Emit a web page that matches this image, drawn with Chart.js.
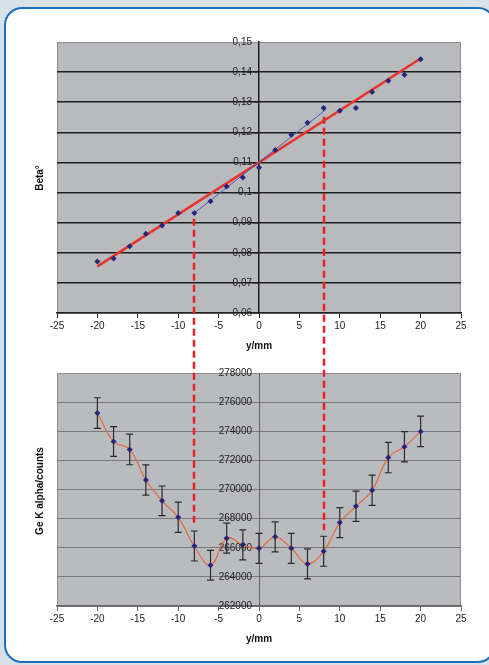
<!DOCTYPE html>
<html>
<head>
<meta charset="utf-8">
<script src="https://cdn.jsdelivr.net/npm/chart.js@4.4.1/dist/chart.umd.min.js"></script>
<style>
  body { margin: 0; width: 489px; height: 665px; overflow: hidden; background: #d8e0e8; position: relative; font-family: "Liberation Sans", Arial, sans-serif; }
  .frame { position: absolute; left: 4px; top: 7px; width: 488px; height: 652px; border: 2.5px solid #1c6fc0; border-radius: 18px; background: #fff; }
  canvas { position: absolute; left: 0; }
  #betaChart { top: 20px; }
  #geChart { top: 355px; }
  #overlay { top: 0; pointer-events: none; }
  .ytitle { position: absolute; font-weight: bold; font-size: 10px; color: #111; transform: translate(-50%, -50%) rotate(-90deg); white-space: nowrap; }
</style>
</head>
<body>
<div class="frame"></div>
<canvas id="betaChart" width="489" height="340"></canvas>
<canvas id="geChart" width="489" height="310"></canvas>
<canvas id="overlay" width="489" height="665"></canvas>
<div class="ytitle" style="left:39px; top:178px;">Beta°</div>
<div class="ytitle" style="left:39px; top:491px;">Ge K alpha/counts</div>
<script>
// positions along y (mm)
const positions = [-20, -18, -16, -14, -12, -10, -8, -6, -4, -2, 0, 2, 4, 6, 8, 10, 12, 14, 16, 18, 20];

// Beta angle measurements
const beta = [0.0771, 0.0781, 0.0822, 0.0863, 0.0891, 0.0932, 0.0932, 0.0971, 0.1020, 0.1050, 0.1083,
              0.1141, 0.1192, 0.1232, 0.1281, 0.1272, 0.1281, 0.1334, 0.1371, 0.1391, 0.1443];
// red fit over the whole range, blue fit over the middle part
const fitX = [-20, 20];
const fitBeta = [0.0755, 0.1445];
const midX = [-8, 8.3];
const midBeta = [0.0932, 0.1276];

// Ge K alpha counts and error
const geCounts = [275250, 273300, 272750, 270650, 269220, 268090, 266120, 264800, 266660, 266200, 265960,
                  266750, 265960, 264890, 265760, 267730, 268850, 269950, 272190, 272940, 273990];
const geErr = [1050, 1020, 1050, 1040, 1020, 1040, 1030, 1020, 1030, 1030, 1030,
               1030, 1030, 1030, 1030, 1030, 1040, 1040, 1040, 1040, 1050];

// dashed markers linking the two plots
const markX = [-8, 8];
const markBeta = [0.0913, 0.1252];
const markCounts = [267500, 267200];

// ticks
const xTicks = [-25, -20, -15, -10, -5, 0, 5, 10, 15, 20, 25];
const betaTickValues = [0.06, 0.07, 0.08, 0.09, 0.10, 0.11, 0.12, 0.13, 0.14, 0.15];
const betaTickLabels = ['0,06', '0,07', '0,08', '0,09', '0,1', '0,11', '0,12', '0,13', '0,14', '0,15'];
const geTickValues = [262000, 264000, 266000, 268000, 270000, 272000, 274000, 276000, 278000];

Chart.defaults.font.family = '"Liberation Sans", Arial, sans-serif';
Chart.defaults.font.size = 10;
Chart.defaults.color = '#222';

const pts = (xs, ys) => xs.map((x, i) => ({ x: x, y: ys[i] }));

const plotBg = {
  id: 'plotBg',
  beforeDraw(chart, args, opts) {
    const { ctx, chartArea: a } = chart;
    ctx.save();
    ctx.fillStyle = opts.color;
    ctx.fillRect(a.left, a.top, a.width, a.height);
    ctx.strokeStyle = opts.border;
    ctx.lineWidth = 1;
    ctx.strokeRect(a.left + 0.5, a.top + 0.5, a.width - 1, a.height - 1);
    ctx.restore();
  }
};

// y axis sits at x = 0, its labels need a small gap from the axis line
const yLabelGap = {
  id: 'yLabelGap',
  beforeDraw(chart, args, opts) {
    const items = chart.scales.y.getLabelItems(chart.chartArea);
    if (items._shifted) return;
    items.forEach(it => { it.options.translation[0] -= opts.gap; });
    items._shifted = true;
  }
};

const errorBars = {
  id: 'errorBars',
  beforeDatasetsDraw(chart, args, opts) {
    if (!opts.values) return;
    const { ctx, scales: { x, y } } = chart;
    ctx.save();
    ctx.strokeStyle = opts.color;
    ctx.lineWidth = 1.2;
    opts.values.forEach((v, i) => {
      const px = x.getPixelForValue(opts.xs[i]);
      const top = y.getPixelForValue(v + opts.err[i]);
      const bot = y.getPixelForValue(v - opts.err[i]);
      ctx.beginPath();
      ctx.moveTo(px, top); ctx.lineTo(px, bot);
      ctx.moveTo(px - 3.5, top); ctx.lineTo(px + 3.5, top);
      ctx.moveTo(px - 3.5, bot); ctx.lineTo(px + 3.5, bot);
      ctx.stroke();
    });
    ctx.restore();
  }
};

function xScale(lineColor) {
  return {
    type: 'linear', min: -25, max: 25,
    afterBuildTicks: s => { s.ticks = xTicks.map(v => ({ value: v })); },
    ticks: { padding: 2, maxRotation: 0, color: '#222' },
    grid: { drawOnChartArea: false, tickLength: 5, color: lineColor },
    border: { color: lineColor, width: 1.5 },
    title: { display: true, text: 'y/mm', font: { weight: 'bold', size: 10 }, color: '#111', padding: { top: 6, bottom: 0 } }
  };
}

const betaChart = new Chart(document.getElementById('betaChart'), {
  type: 'scatter',
  data: {
    datasets: [
      { data: pts(positions, beta), pointStyle: 'rectRot', pointRadius: 3, backgroundColor: '#25257a', borderColor: '#25257a', borderWidth: 0, showLine: false },
      { data: pts(midX, midBeta), showLine: true, borderColor: '#5454b4', borderWidth: 1, pointRadius: 0 },
      { data: pts(fitX, fitBeta), showLine: true, borderColor: '#e8342a', borderWidth: 2.5, pointRadius: 0 }
    ]
  },
  options: {
    responsive: false,
    animation: false,
    layout: { padding: { left: 57, right: 28, top: 22, bottom: 8 } },
    plugins: {
      legend: { display: false },
      tooltip: { enabled: false },
      plotBg: { color: '#b8babd', border: '#8e8e8e' },
      yLabelGap: { gap: 7 }
    },
    scales: {
      x: xScale('#222'),
      y: {
        type: 'linear', position: { x: 0 }, min: 0.06, max: 0.15,
        afterBuildTicks: s => { s.ticks = betaTickValues.map(v => ({ value: v })); },
        ticks: { callback: (v, i) => betaTickLabels[i], padding: 2, color: '#222' },
        grid: { color: c => (c.index === betaTickValues.length - 1 ? 'rgba(0,0,0,0)' : '#1e1e1e'), lineWidth: 1.5, tickLength: 5 },
        border: { color: '#1e1e1e', width: 1.5 }
      }
    }
  },
  plugins: [plotBg, yLabelGap]
});

const geChart = new Chart(document.getElementById('geChart'), {
  type: 'scatter',
  data: {
    datasets: [
      { data: pts(positions, geCounts), showLine: true, tension: 0.4, borderColor: '#e8683e', borderWidth: 1.2,
        pointStyle: 'rectRot', pointRadius: 3, pointBackgroundColor: '#25257a', pointBorderColor: '#25257a', pointBorderWidth: 0 }
    ]
  },
  options: {
    responsive: false,
    animation: false,
    layout: { padding: { left: 57, right: 28, top: 18, bottom: 20 } },
    plugins: {
      legend: { display: false },
      tooltip: { enabled: false },
      plotBg: { color: '#b9bbbf', border: '#8e8e8e' },
      yLabelGap: { gap: 7 },
      errorBars: { values: geCounts, xs: positions, err: geErr, color: '#2a2a2a' }
    },
    scales: {
      x: xScale('#666'),
      y: {
        type: 'linear', position: { x: 0 }, min: 262000, max: 278000,
        afterBuildTicks: s => { s.ticks = geTickValues.map(v => ({ value: v })); },
        ticks: { callback: v => String(v), padding: 2, color: '#222' },
        grid: { color: c => (c.index === geTickValues.length - 1 ? 'rgba(0,0,0,0)' : '#7a7a7a'), lineWidth: 1, tickLength: 5 },
        border: { color: '#666', width: 1 }
      }
    }
  },
  plugins: [plotBg, yLabelGap, errorBars]
});

// red dashed lines running from the upper plot into the lower one
const ov = document.getElementById('overlay').getContext('2d');
const topOff = document.getElementById('betaChart').offsetTop;
const botOff = document.getElementById('geChart').offsetTop;
ov.strokeStyle = '#e8202a';
ov.lineWidth = 2.5;
ov.setLineDash([7, 4]);
markX.forEach((mx, i) => {
  const px = Math.round(betaChart.scales.x.getPixelForValue(mx));
  const y1 = topOff + betaChart.scales.y.getPixelForValue(markBeta[i]);
  const y2 = botOff + geChart.scales.y.getPixelForValue(markCounts[i]);
  ov.beginPath();
  ov.moveTo(px, y1);
  ov.lineTo(px, y2);
  ov.stroke();
});
</script>
</body>
</html>
